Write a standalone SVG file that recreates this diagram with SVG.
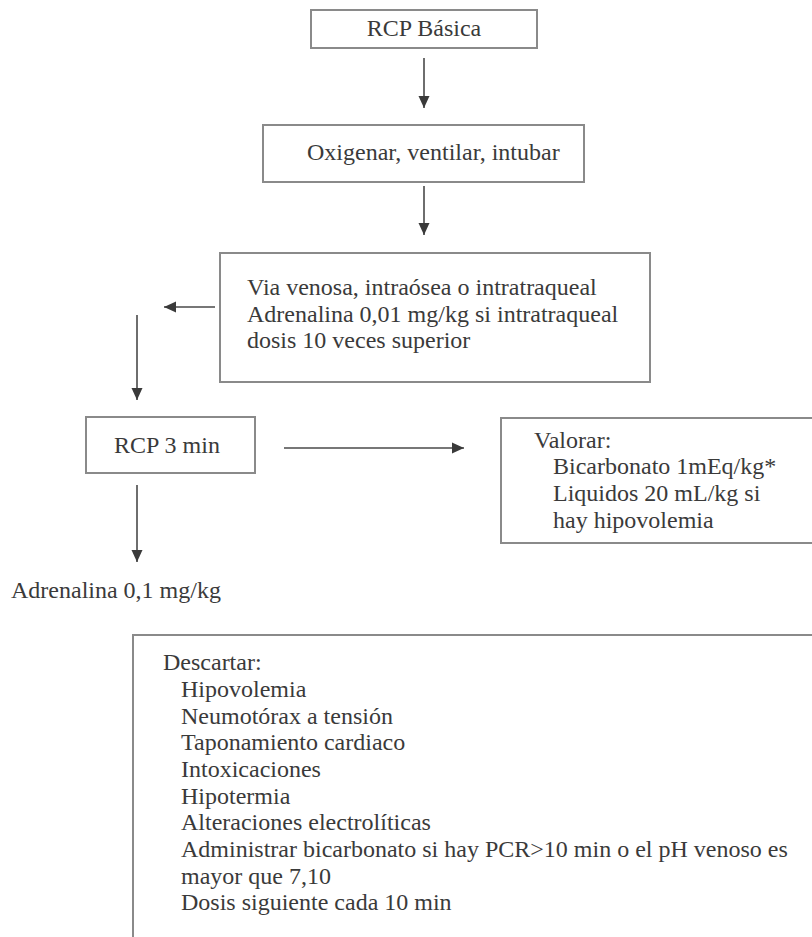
<svg xmlns="http://www.w3.org/2000/svg" width="812" height="937" viewBox="0 0 812 937">
  <style>
    .box { fill: #ffffff; stroke: #8a8a8a; stroke-width: 2; }
    .txt { font-family: "Liberation Serif", "Times New Roman", "DejaVu Serif", serif; font-size: 24px; fill: #3a3a3a; }
    .mid { text-anchor: middle; }
    .link { fill: none; stroke: #4a4a4a; stroke-width: 1.6; marker-end: url(#head); }
  </style>
  <defs>
    <marker id="head" markerUnits="userSpaceOnUse" markerWidth="14" markerHeight="14" viewBox="0 0 14 14" refX="13" refY="7" orient="auto">
      <path d="M1,1.5 L13,7 L1,12.5 Z" fill="#3a3a3a"/>
    </marker>
  </defs>
  <rect width="812" height="937" fill="#ffffff"/>

  <!-- connectors -->
  <g id="connectors">
    <line class="link" x1="424" y1="58" x2="424" y2="108"/>
    <line class="link" x1="424" y1="186" x2="424" y2="235"/>
    <line class="link" x1="215" y1="307" x2="164" y2="307"/>
    <line class="link" x1="137" y1="315" x2="137" y2="400"/>
    <line class="link" x1="284" y1="448" x2="464" y2="448"/>
    <line class="link" x1="137" y1="485" x2="137" y2="562"/>
  </g>

  <g id="rcp-basica">
    <rect class="box" x="311" y="10" width="226" height="38"/>
    <text class="txt mid" x="424" y="36">RCP Básica</text>
  </g>

  <g id="oxigenar">
    <rect class="box" x="263" y="125" width="321" height="57"/>
    <text class="txt" x="307" y="160">Oxigenar, ventilar, intubar</text>
  </g>

  <g id="via-venosa">
    <rect class="box" x="220" y="253" width="430" height="129"/>
    <text class="txt" x="247" y="295">Via venosa, intraósea o intratraqueal</text>
    <text class="txt" x="247" y="322">Adrenalina 0,01 mg/kg si intratraqueal</text>
    <text class="txt" x="247" y="348">dosis 10 veces superior</text>
  </g>

  <g id="rcp-3min">
    <rect class="box" x="86" y="417" width="169" height="56"/>
    <text class="txt mid" x="167" y="453">RCP 3 min</text>
  </g>

  <g id="valorar">
    <rect class="box" x="501" y="418" width="330" height="125"/>
    <text class="txt" x="534" y="448">Valorar:</text>
    <text class="txt" x="553" y="474">Bicarbonato 1mEq/kg*</text>
    <text class="txt" x="553" y="501">Liquidos 20 mL/kg si</text>
    <text class="txt" x="553" y="528">hay hipovolemia</text>
  </g>

  <g id="adrenalina">
    <text class="txt" x="11" y="598">Adrenalina 0,1 mg/kg</text>
  </g>

  <g id="descartar">
    <rect class="box" x="133" y="635" width="700" height="320"/>
    <text class="txt" x="163" y="670">Descartar:</text>
    <text class="txt" x="181" y="697">Hipovolemia</text>
    <text class="txt" x="181" y="723.5">Neumotórax a tensión</text>
    <text class="txt" x="181" y="750">Taponamiento cardiaco</text>
    <text class="txt" x="181" y="777">Intoxicaciones</text>
    <text class="txt" x="181" y="803.5">Hipotermia</text>
    <text class="txt" x="181" y="830">Alteraciones electrolíticas</text>
    <text class="txt" x="181" y="857">Administrar bicarbonato si hay PCR&gt;10 min o el pH venoso es</text>
    <text class="txt" x="181" y="883.5">mayor que 7,10</text>
    <text class="txt" x="181" y="910">Dosis siguiente cada 10 min</text>
  </g>
</svg>
